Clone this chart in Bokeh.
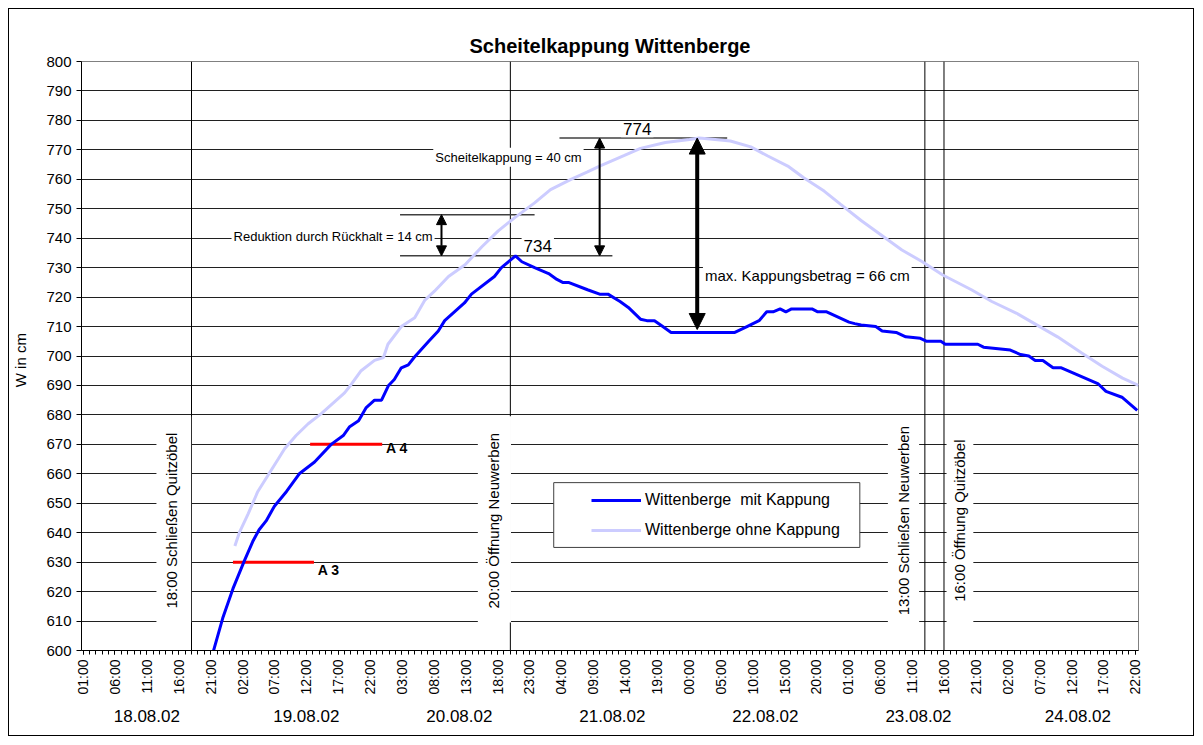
import math
from bokeh.plotting import figure
from bokeh.models import (FixedTicker, LinearAxis, Range1d, Label, Arrow, NormalHead,
                          Legend, LegendItem)
from bokeh.core.properties import value
from bokeh.embed import file_html
from bokeh.resources import INLINE

FONT = "Liberation Sans"

# x = hours since 18.08.02 00:00
mit_hours = [21.2, 22.9, 24.5, 26.3, 27.6, 28.6, 29.7, 31.0, 32.9, 33.9, 34.9, 37.3, 39.9, 41.8, 42.8,
             44.2, 45.4, 46.7, 47.8, 48.9, 49.8, 50.9, 52.0, 52.9, 55.2, 56.7, 57.7, 60.8, 61.9, 65.5,
             66.6, 68.8, 69.8, 71.8, 74.0, 75.3, 76.2, 77.1, 80.1, 82.0, 83.3, 85.2, 86.5, 88.4, 89.4,
             90.6, 91.9, 93.2, 103.2, 105.1, 107.0, 108.2, 109.2, 110.3, 111.2, 112.1, 115.3, 116.2,
             117.6, 121.1, 122.0, 123.0, 125.3, 126.3, 128.5, 130.0, 132.3, 133.3, 135.5, 136.2, 141.3,
             142.2, 146.4, 148.0, 149.3, 150.3, 151.5, 153.1, 154.4, 160.2, 161.4, 163.9, 166.3]
mit_values = [598, 611, 621, 630.5, 637, 641, 644, 649, 654, 657, 660, 664, 670, 673, 676,
              678, 682.5, 685, 685, 690, 692, 696, 697, 699.5, 705, 708.5, 712, 718, 721, 727,
              730, 734, 732, 730, 728, 726, 725, 725, 722.5, 721, 721, 718.5, 716.5, 712.5, 712,
              712, 710, 708, 708, 710, 712, 715, 715, 716, 715, 716, 716, 715,
              715, 711.5, 711, 710.5, 710, 708.5, 708, 706.5, 706, 705, 705, 704, 704,
              703, 702, 700.5, 700, 698.5, 698.5, 696, 696, 690.5, 688, 686, 681.5]

ohne_hours = [24.8, 25.5, 26.9, 28.4, 30.0, 31.6, 32.6, 34.4, 36.3, 38.4, 40.2, 42.0, 43.1, 44.6, 46.7,
              48.1, 48.8, 50.9, 53.0, 54.6, 56.1, 58.3, 60.9, 63.5, 66.1, 68.7, 71.8, 74.3, 77.5, 80.1,
              82.0, 85.8, 88.4, 92.3, 96.1, 97.6, 99.3, 102.5, 105.7, 108.3, 111.5, 114.0, 117.2, 119.8,
              123.0, 126.2, 129.4, 132.6, 135.8, 140.3, 143.5, 147.4, 150.6, 153.8, 157.6, 160.8, 164.0, 166.5]
ohne_values = [635.5, 640, 646.5, 654, 659.5, 665, 668.5, 673, 677, 680.5, 684, 687.5, 690.5, 695, 698.5,
               699.5, 704, 710, 713, 719, 722, 727, 731, 737, 742.5, 747, 752, 756.5, 760, 762.5,
               764.5, 768, 770.5, 772.5, 773.5, 774, 773.7, 773, 771, 768, 764.5, 760.5, 756, 751.5,
               746, 741, 736, 732, 727.5, 722.5, 718.5, 714.5, 710.5, 706.5, 701, 696.5, 692.5, 690]

tick_hours = list(range(1, 167, 5))
tick_labels = ["01:00", "06:00", "11:00", "16:00", "21:00", "02:00", "07:00", "12:00", "17:00",
               "22:00", "03:00", "08:00", "13:00", "18:00", "23:00", "04:00", "09:00", "14:00",
               "19:00", "00:00", "05:00", "10:00", "15:00", "20:00", "01:00", "06:00", "11:00",
               "16:00", "21:00", "02:00", "07:00", "12:00", "17:00", "22:00"]
day_centers = [11, 36, 60, 84, 108, 132, 157]
day_labels = ["18.08.02", "19.08.02", "20.08.02", "21.08.02", "22.08.02", "23.08.02", "24.08.02"]

event_hours = [18, 68, 133, 136]
event_labels = ["18:00  Schließen Quitzöbel", "20:00  Öffnung Neuwerben",
                "13:00  Schließen Neuwerben", "16:00  Öffnung Quitzöbel"]

peak_mit = 734
peak_ohne = 774
ohne_at_peak = 748
plateau_mit = 709
stage_values = [630, 670]
stage_labels = ["A 3", "A 4"]

y_ticks = list(range(600, 801, 10))

p = figure(width=1186, height=728, output_backend="svg", toolbar_location=None,
           x_range=Range1d(0.75, 166.5), y_range=Range1d(600, 800),
           min_border_left=71, min_border_right=57, min_border_top=52, min_border_bottom=87,
           title="Scheitelkappung Wittenberge")
p.styles = {"border": "1px solid #000", "margin-left": "8px", "margin-top": "8px"}
p.title.text_font = FONT
p.title.text_font_size = "20px"
p.title.text_font_style = "bold"
p.title.text_color = "black"
p.title.align = "center"
p.outline_line_color = "#808080"
p.background_fill_color = "white"
p.border_fill_color = "white"

# axes
xa = p.xaxis[0]
xa.ticker = FixedTicker(ticks=tick_hours, minor_ticks=list(range(1, 167)))
xa.major_label_overrides = dict(zip(tick_hours, tick_labels))
xa.major_label_orientation = math.pi / 2
xa.major_label_text_font = FONT
xa.major_label_text_font_size = "14px"
xa.major_label_text_color = "black"
xa.major_tick_in = 0
xa.major_tick_out = 4
xa.minor_tick_in = 0
xa.minor_tick_out = 4
xa.axis_line_color = "black"
xa.major_tick_line_color = "black"
xa.minor_tick_line_color = "black"

ax2 = LinearAxis(ticker=FixedTicker(ticks=day_centers, minor_ticks=[]),
                 major_label_overrides=dict(zip(day_centers, day_labels)),
                 axis_line_color=None, major_tick_line_color=None, minor_tick_line_color=None,
                 major_label_text_font=FONT, major_label_text_font_size="17px",
                 major_label_text_color="black", major_label_standoff=6)
p.add_layout(ax2, "below")

ya = p.yaxis[0]
ya.ticker = FixedTicker(ticks=y_ticks, minor_ticks=[])
ya.major_label_text_font = FONT
ya.major_label_text_font_size = "15px"
ya.major_label_text_color = "black"
ya.major_tick_in = 0
ya.major_tick_out = 5
ya.axis_line_color = "black"
ya.major_tick_line_color = "black"
ya.axis_label = "W  in  cm"
ya.axis_label_text_font = FONT
ya.axis_label_text_font_size = "15px"
ya.axis_label_text_font_style = "normal"
ya.axis_label_text_color = "black"
ya.axis_label_standoff = 14

p.xgrid.visible = False
p.ygrid.ticker = FixedTicker(ticks=y_ticks)
p.ygrid.grid_line_color = "#202020"
p.ygrid.grid_line_width = 1

# event lines
p.segment(x0=event_hours, x1=event_hours, y0=[600] * 4, y1=[800] * 4,
          line_color="black", line_width=1)
# white label boxes
p.quad(left=[12.5, 62.9, 127.2, 136.4], right=[17.95, 68.1, 132.1, 140.6],
       bottom=[609.5] * 4, top=[679.5] * 4, fill_color="white", line_color=None)
p.text(x=[14.8, 65.3, 129.6, 138.5], y=[644.8] * 4, text=event_labels, angle=math.pi / 2,
       text_align="center", text_baseline="middle", text_font=value(FONT),
       text_font_size="15px", text_color="black")

# reference lines
p.segment(x0=[75.7, 50.7, 50.7], x1=[102.0, 71.8, 84.0],
          y0=[peak_ohne, ohne_at_peak, peak_mit], y1=[peak_ohne, ohne_at_peak, peak_mit],
          line_color="#404040", line_width=1.5)

# stage lines
p.segment(x0=[24.5, 36.6], x1=[37.2, 47.9], y0=stage_values, y1=stage_values,
          line_color="#FF0000", line_width=3)
p.text(x=[37.8, 48.5], y=[627.2, 668.6], text=stage_labels, text_align="left",
       text_baseline="middle", text_font=value(FONT), text_font_size="14px",
       text_font_style="bold", text_color="black")

# legend box
p.quad(left=[74.8], right=[122.8], bottom=[635.0], top=[657.0], fill_color="white",
       line_color="#404040", line_width=1)

r_ohne = p.line(ohne_hours, ohne_values, line_color="#CCCCFF", line_width=3)
r_mit = p.line(mit_hours, mit_values, line_color="#0000FF", line_width=3)

legend = Legend(items=[LegendItem(label="Wittenberge  mit Kappung", renderers=[r_mit]),
                       LegendItem(label="Wittenberge ohne Kappung", renderers=[r_ohne])],
                location=(510, 110), border_line_alpha=0, background_fill_alpha=0,
                padding=0, margin=0, glyph_width=50, glyph_height=20, label_height=20,
                spacing=10, label_standoff=4, label_text_font=FONT, label_text_font_size="16px",
                label_text_color="black")
p.add_layout(legend)

# arrows
def head(s):
    return NormalHead(size=s, fill_color="black", line_color="black")

p.add_layout(Arrow(x_start=57.2, y_start=ohne_at_peak, x_end=57.2, y_end=peak_mit,
                   start=head(10), end=head(10), line_width=2, line_color="black"))
p.add_layout(Arrow(x_start=82.0, y_start=peak_ohne, x_end=82.0, y_end=peak_mit,
                   start=head(10), end=head(10), line_width=2, line_color="black"))
p.add_layout(Arrow(x_start=97.3, y_start=peak_ohne, x_end=97.3, y_end=plateau_mit,
                   start=head(16), end=head(16), line_width=4, line_color="black"))

# labels
def lab(x, y, text, size, align="center"):
    p.add_layout(Label(x=x, y=y, text=text, text_font=FONT, text_font_size=size,
                       text_align=align, text_baseline="middle", text_color="black",
                       background_fill_color="white", padding=2))

lab(40.2, 740.5, "Reduktion durch Rückhalt = 14 cm", "13px")
lab(67.7, 767.5, "Scheitelkappung = 40 cm", "13px")
lab(87.9, 777.0, str(peak_ohne), "17px")
lab(72.3, 737.5, str(peak_mit), "17px")
lab(98.2, 727.3, "max. Kappungsbetrag = 66 cm", "15px", align="left")

open("out.html", "w").write(file_html(p, INLINE))
